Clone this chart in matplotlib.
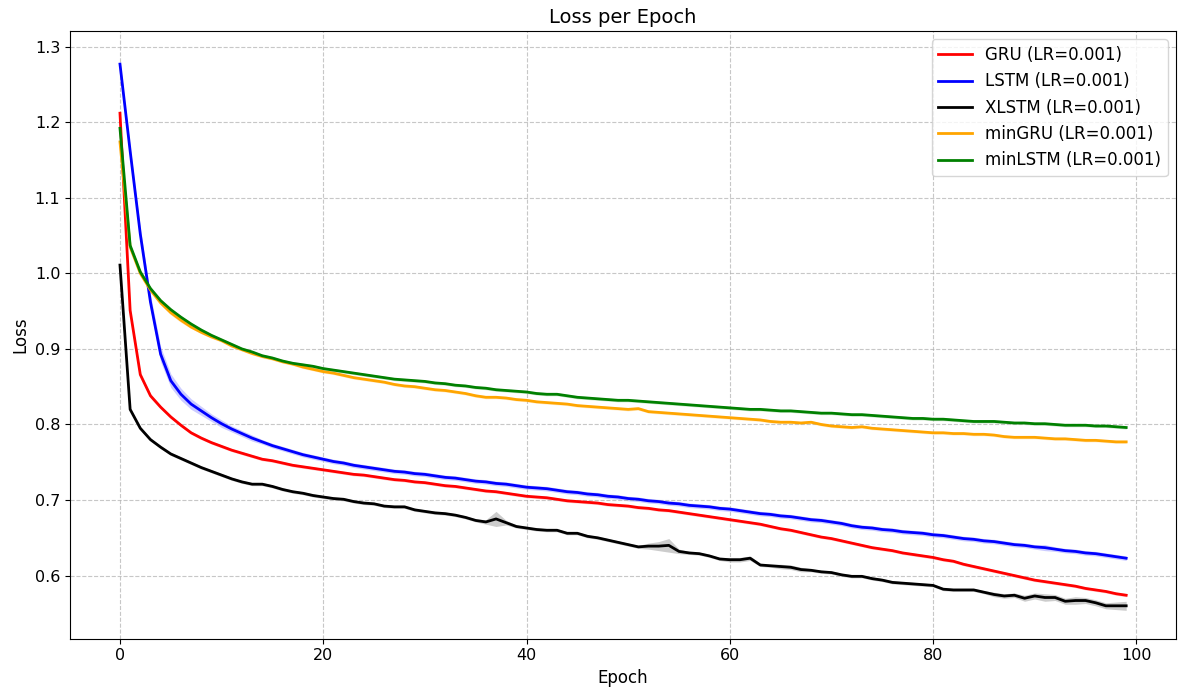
import numpy as np
import matplotlib
matplotlib.use("Agg")
import matplotlib.pyplot as plt

epochs = list(range(100))

gru = [1.212, 0.951, 0.866, 0.838, 0.823, 0.810, 0.799, 0.789, 0.782, 0.776,
       0.771, 0.766, 0.762, 0.758, 0.754, 0.752, 0.749, 0.746, 0.744, 0.742,
       0.740, 0.738, 0.736, 0.734, 0.733, 0.731, 0.729, 0.727, 0.726, 0.724,
       0.723, 0.721, 0.719, 0.718, 0.716, 0.714, 0.712, 0.711, 0.709, 0.707,
       0.705, 0.704, 0.703, 0.701, 0.699, 0.698, 0.697, 0.696, 0.694, 0.693,
       0.692, 0.690, 0.689, 0.687, 0.686, 0.684, 0.682, 0.680, 0.678, 0.676,
       0.674, 0.672, 0.670, 0.668, 0.665, 0.662, 0.660, 0.657, 0.654, 0.651,
       0.649, 0.646, 0.643, 0.640, 0.637, 0.635, 0.633, 0.630, 0.628, 0.626,
       0.624, 0.621, 0.619, 0.615, 0.612, 0.609, 0.606, 0.603, 0.600, 0.597,
       0.594, 0.592, 0.590, 0.588, 0.586, 0.583, 0.581, 0.579, 0.576, 0.574]

lstm = [1.277, 1.162, 1.052, 0.962, 0.893, 0.858, 0.840, 0.827, 0.818, 0.809,
        0.801, 0.794, 0.788, 0.782, 0.777, 0.772, 0.768, 0.764, 0.760, 0.757,
        0.754, 0.751, 0.749, 0.746, 0.744, 0.742, 0.740, 0.738, 0.737, 0.735,
        0.734, 0.732, 0.730, 0.729, 0.727, 0.725, 0.724, 0.722, 0.721, 0.719,
        0.717, 0.716, 0.715, 0.713, 0.711, 0.710, 0.708, 0.707, 0.705, 0.704,
        0.702, 0.701, 0.699, 0.698, 0.696, 0.695, 0.693, 0.692, 0.691, 0.689,
        0.688, 0.686, 0.684, 0.682, 0.681, 0.679, 0.678, 0.676, 0.674, 0.673,
        0.671, 0.669, 0.666, 0.664, 0.663, 0.661, 0.660, 0.658, 0.657, 0.656,
        0.654, 0.653, 0.651, 0.649, 0.648, 0.646, 0.645, 0.643, 0.641, 0.640,
        0.638, 0.637, 0.635, 0.633, 0.632, 0.630, 0.629, 0.627, 0.625, 0.623]

xlstm = [1.011, 0.820, 0.795, 0.780, 0.770, 0.761, 0.755, 0.749, 0.743, 0.738,
         0.733, 0.728, 0.724, 0.721, 0.721, 0.718, 0.714, 0.711, 0.709, 0.706,
         0.704, 0.702, 0.701, 0.698, 0.696, 0.695, 0.692, 0.691, 0.691, 0.687,
         0.685, 0.683, 0.682, 0.680, 0.677, 0.673, 0.671, 0.675, 0.670, 0.665,
         0.663, 0.661, 0.660, 0.660, 0.656, 0.656, 0.652, 0.650, 0.647, 0.644,
         0.641, 0.638, 0.639, 0.639, 0.640, 0.632, 0.630, 0.629, 0.626, 0.622,
         0.621, 0.621, 0.623, 0.614, 0.613, 0.612, 0.611, 0.608, 0.607, 0.605,
         0.604, 0.601, 0.599, 0.599, 0.596, 0.594, 0.591, 0.590, 0.589, 0.588,
         0.587, 0.582, 0.581, 0.581, 0.581, 0.578, 0.575, 0.573, 0.574, 0.570,
         0.573, 0.571, 0.571, 0.566, 0.567, 0.567, 0.564, 0.560, 0.560, 0.560]

mingru = [1.174, 1.035, 1.000, 0.978, 0.961, 0.948, 0.938, 0.929, 0.922, 0.916,
          0.911, 0.904, 0.899, 0.894, 0.890, 0.887, 0.883, 0.880, 0.876, 0.873,
          0.870, 0.868, 0.865, 0.862, 0.860, 0.858, 0.856, 0.853, 0.851, 0.850,
          0.848, 0.846, 0.845, 0.843, 0.841, 0.838, 0.836, 0.836, 0.835, 0.833,
          0.832, 0.830, 0.829, 0.828, 0.827, 0.825, 0.824, 0.823, 0.822, 0.821,
          0.820, 0.821, 0.817, 0.816, 0.815, 0.814, 0.813, 0.812, 0.811, 0.810,
          0.809, 0.808, 0.807, 0.806, 0.804, 0.803, 0.803, 0.802, 0.803, 0.800,
          0.798, 0.797, 0.796, 0.797, 0.795, 0.794, 0.793, 0.792, 0.791, 0.790,
          0.789, 0.789, 0.788, 0.788, 0.787, 0.787, 0.786, 0.784, 0.783, 0.783,
          0.783, 0.782, 0.781, 0.781, 0.780, 0.779, 0.779, 0.778, 0.777, 0.777]

minlstm = [1.192, 1.037, 1.002, 0.980, 0.964, 0.952, 0.942, 0.933, 0.925, 0.918,
           0.912, 0.906, 0.900, 0.896, 0.891, 0.888, 0.884, 0.881, 0.879, 0.877,
           0.874, 0.872, 0.870, 0.868, 0.866, 0.864, 0.862, 0.860, 0.859, 0.858,
           0.857, 0.855, 0.854, 0.852, 0.851, 0.849, 0.848, 0.846, 0.845, 0.844,
           0.843, 0.841, 0.840, 0.840, 0.838, 0.836, 0.835, 0.834, 0.833, 0.832,
           0.832, 0.831, 0.830, 0.829, 0.828, 0.827, 0.826, 0.825, 0.824, 0.823,
           0.822, 0.821, 0.820, 0.820, 0.819, 0.818, 0.818, 0.817, 0.816, 0.815,
           0.815, 0.814, 0.813, 0.813, 0.812, 0.811, 0.810, 0.809, 0.808, 0.808,
           0.807, 0.807, 0.806, 0.805, 0.804, 0.804, 0.804, 0.803, 0.802, 0.802,
           0.801, 0.801, 0.800, 0.799, 0.799, 0.799, 0.798, 0.798, 0.797, 0.796]

# spread (half-width of the shaded band)
gru_sd = [0.002, 0.003, 0.003, 0.003, 0.002, 0.002, 0.002, 0.002, 0.002, 0.002,
          0.002, 0.002, 0.002, 0.002, 0.002, 0.002, 0.002, 0.002, 0.002, 0.002,
          0.002, 0.002, 0.002, 0.002, 0.002, 0.002, 0.002, 0.002, 0.002, 0.002,
          0.002, 0.002, 0.002, 0.002, 0.002, 0.002, 0.002, 0.002, 0.002, 0.002,
          0.002, 0.002, 0.002, 0.002, 0.002, 0.002, 0.002, 0.002, 0.002, 0.002,
          0.002, 0.002, 0.002, 0.002, 0.002, 0.002, 0.002, 0.002, 0.002, 0.002,
          0.002, 0.002, 0.002, 0.002, 0.002, 0.002, 0.002, 0.002, 0.002, 0.002,
          0.002, 0.002, 0.002, 0.002, 0.002, 0.002, 0.002, 0.002, 0.002, 0.002,
          0.002, 0.002, 0.002, 0.002, 0.002, 0.002, 0.002, 0.002, 0.002, 0.002,
          0.002, 0.002, 0.002, 0.002, 0.002, 0.002, 0.002, 0.002, 0.002, 0.002]

lstm_sd = [0.004, 0.006, 0.008, 0.010, 0.010, 0.009, 0.008, 0.007, 0.006, 0.005,
           0.005, 0.004, 0.004, 0.004, 0.003, 0.003, 0.003, 0.003, 0.003, 0.003,
           0.003, 0.003, 0.003, 0.003, 0.003, 0.003, 0.003, 0.003, 0.003, 0.003,
           0.003, 0.003, 0.003, 0.003, 0.003, 0.003, 0.003, 0.003, 0.003, 0.003,
           0.003, 0.003, 0.003, 0.003, 0.003, 0.003, 0.003, 0.003, 0.003, 0.003,
           0.003, 0.003, 0.003, 0.003, 0.003, 0.003, 0.003, 0.003, 0.003, 0.003,
           0.003, 0.003, 0.003, 0.003, 0.003, 0.003, 0.003, 0.003, 0.003, 0.003,
           0.003, 0.003, 0.003, 0.003, 0.003, 0.003, 0.003, 0.003, 0.003, 0.003,
           0.003, 0.003, 0.003, 0.003, 0.003, 0.003, 0.003, 0.003, 0.003, 0.003,
           0.003, 0.004, 0.003, 0.003, 0.003, 0.003, 0.003, 0.003, 0.003, 0.003]

xlstm_sd = [0.002, 0.002, 0.002, 0.002, 0.002, 0.002, 0.002, 0.002, 0.002, 0.002,
            0.002, 0.002, 0.002, 0.002, 0.002, 0.002, 0.002, 0.002, 0.002, 0.002,
            0.002, 0.002, 0.002, 0.002, 0.002, 0.002, 0.002, 0.002, 0.002, 0.002,
            0.002, 0.002, 0.002, 0.002, 0.002, 0.002, 0.003, 0.010, 0.003, 0.002,
            0.002, 0.002, 0.002, 0.002, 0.002, 0.002, 0.002, 0.002, 0.002, 0.002,
            0.002, 0.002, 0.004, 0.006, 0.009, 0.003, 0.002, 0.002, 0.002, 0.002,
            0.003, 0.003, 0.003, 0.002, 0.002, 0.003, 0.003, 0.003, 0.002, 0.002,
            0.002, 0.002, 0.002, 0.002, 0.002, 0.002, 0.002, 0.002, 0.002, 0.002,
            0.002, 0.002, 0.002, 0.002, 0.002, 0.002, 0.003, 0.003, 0.003, 0.004,
            0.004, 0.005, 0.004, 0.004, 0.005, 0.004, 0.004, 0.004, 0.005, 0.006]

mingru_sd = [0.002, 0.003, 0.003, 0.003, 0.003, 0.003, 0.003, 0.002, 0.002, 0.002,
             0.002, 0.002, 0.002, 0.002, 0.002, 0.002, 0.002, 0.002, 0.002, 0.002,
             0.002, 0.002, 0.002, 0.002, 0.002, 0.002, 0.002, 0.002, 0.002, 0.002,
             0.002, 0.002, 0.002, 0.002, 0.002, 0.002, 0.002, 0.002, 0.002, 0.002,
             0.002, 0.002, 0.002, 0.002, 0.002, 0.002, 0.002, 0.002, 0.002, 0.002,
             0.002, 0.002, 0.002, 0.002, 0.002, 0.002, 0.002, 0.002, 0.002, 0.002,
             0.002, 0.002, 0.002, 0.002, 0.002, 0.002, 0.002, 0.002, 0.002, 0.002,
             0.002, 0.002, 0.002, 0.002, 0.002, 0.002, 0.002, 0.002, 0.002, 0.002,
             0.002, 0.002, 0.002, 0.002, 0.002, 0.002, 0.002, 0.002, 0.002, 0.002,
             0.002, 0.002, 0.002, 0.002, 0.002, 0.002, 0.002, 0.002, 0.002, 0.002]

minlstm_sd = [0.002, 0.002, 0.002, 0.002, 0.002, 0.002, 0.002, 0.002, 0.002, 0.002,
              0.002, 0.002, 0.002, 0.002, 0.002, 0.002, 0.002, 0.002, 0.002, 0.002,
              0.002, 0.002, 0.002, 0.002, 0.002, 0.002, 0.002, 0.002, 0.002, 0.002,
              0.002, 0.002, 0.002, 0.002, 0.002, 0.002, 0.002, 0.002, 0.002, 0.002,
              0.002, 0.002, 0.002, 0.002, 0.002, 0.002, 0.002, 0.002, 0.002, 0.002,
              0.002, 0.002, 0.002, 0.002, 0.002, 0.002, 0.002, 0.002, 0.002, 0.002,
              0.002, 0.002, 0.002, 0.002, 0.002, 0.002, 0.002, 0.002, 0.002, 0.002,
              0.002, 0.002, 0.002, 0.002, 0.002, 0.002, 0.002, 0.002, 0.002, 0.002,
              0.002, 0.002, 0.002, 0.002, 0.002, 0.002, 0.002, 0.002, 0.002, 0.002,
              0.002, 0.002, 0.002, 0.002, 0.002, 0.002, 0.002, 0.002, 0.002, 0.002]

labels = ["GRU (LR=0.001)", "LSTM (LR=0.001)", "XLSTM (LR=0.001)",
          "minGRU (LR=0.001)", "minLSTM (LR=0.001)"]
colors = ["red", "blue", "black", "orange", "green"]
series = [gru, lstm, xlstm, mingru, minlstm]
spreads = [gru_sd, lstm_sd, xlstm_sd, mingru_sd, minlstm_sd]

fig = plt.figure(figsize=(11.78, 6.97), dpi=100)
ax = fig.add_axes([0.0594, 0.0839, 0.9389, 0.8716])

x = np.array(epochs)
for vals, sd, c, lab in zip(series, spreads, colors, labels):
    v = np.array(vals)
    s = np.array(sd)
    ax.fill_between(x, v - s, v + s, color=c, alpha=0.2, linewidth=0)
    ax.plot(x, v, color=c, linewidth=2, label=lab)

ax.set_xlim(-4.92, 103.9)
ax.set_ylim(0.5167, 1.3208)
ax.set_xticks([0, 20, 40, 60, 80, 100])
ax.set_yticks([0.6, 0.7, 0.8, 0.9, 1.0, 1.1, 1.2, 1.3])
ax.tick_params(labelsize=11.5)
ax.grid(True, linestyle="--", color="#b0b0b0", alpha=0.7)
ax.set_title("Loss per Epoch", fontsize=14)
ax.set_xlabel("Epoch", fontsize=12)
ax.set_ylabel("Loss", fontsize=12)
ax.legend(loc="upper right", fontsize=12)

fig.savefig("out.png", dpi=100)
